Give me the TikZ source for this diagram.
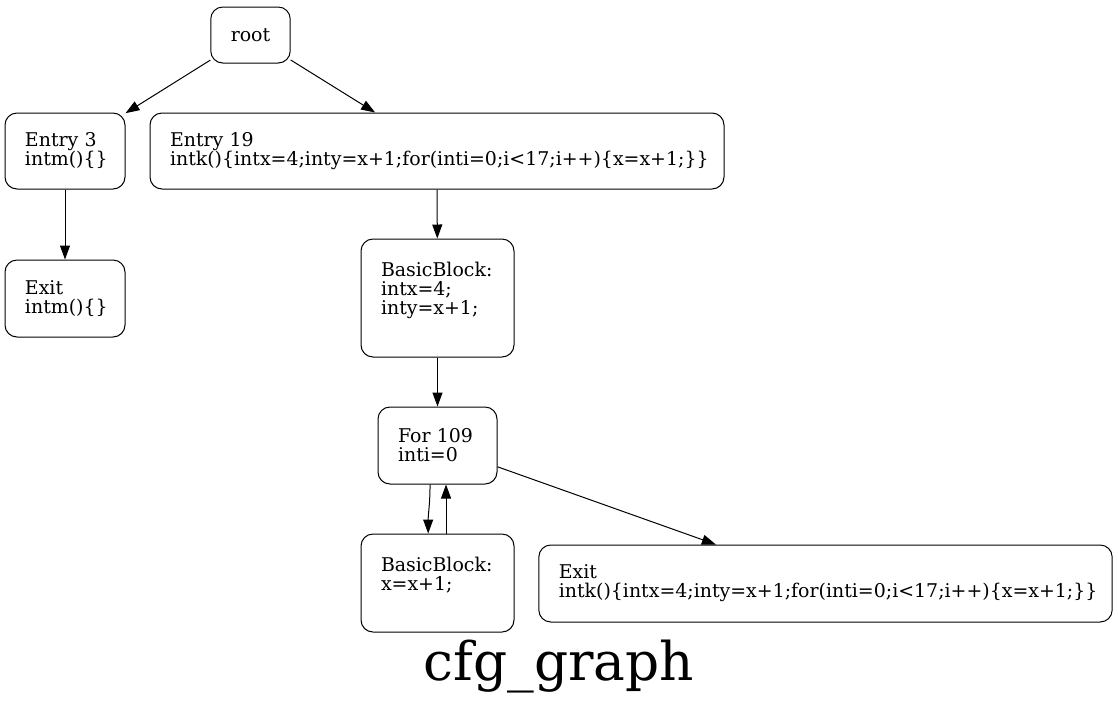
\documentclass[tikz,border=0pt]{standalone}
\usepackage{fontspec}
\setmainfont{DejaVu Serif}
\usetikzlibrary{arrows.meta}

\begin{document}
\begin{tikzpicture}[x=0.75pt, y=-0.75pt, line width=0.75pt,
  blk/.style={draw, rounded corners=9pt, align=left, inner xsep=15pt,
              inner ysep=0pt, font=\fontsize{14.2}{14.25}\selectfont},
  edge/.style={-{Triangle[length=10.5pt, width=7.5pt]}}]
  \useasboundingbox (0,0) rectangle (1118,708);

  %% blocks of the control flow graph (pixel positions, y downwards)
  \node[blk, align=center, minimum width=57.75pt, minimum height=42pt]
    (root) at (250.5,35) {root};
  \node[blk, text width=60pt, minimum height=57pt]
    (entrym) at (65,151) {Entry 3\\intm()\{\}};
  \node[blk, text width=400.5pt, minimum height=57pt]
    (entryk) at (437,151) {Entry 19\\intk()\{intx=4;inty=x+1;for(inti=0;i<17;i++)\{x=x+1;\}\}};
  \node[blk, text width=60pt, minimum height=57.75pt]
    (exitm) at (65,298.5) {Exit\\intm()\{\}};
  \node[blk, text width=84.75pt, minimum height=88.5pt]
    (bbinit) at (437.5,298) {BasicBlock:\\intx=4;\\inty=x+1;\\\mbox{}};
  \node[blk, text width=59.25pt, minimum height=57.75pt]
    (forloop) at (437.5,445.5) {For 109\\inti=0};
  \node[blk, text width=84.75pt, minimum height=73.5pt]
    (bbbody) at (437.5,583) {BasicBlock:\\x=x+1;\\\mbox{}};
  \node[blk, text width=400pt, minimum height=57.75pt]
    (exitk) at (825.5,583.5) {Exit\\intk()\{intx=4;inty=x+1;for(inti=0;i<17;i++)\{x=x+1;\}\}};

  %% graph title
  \node[font=\fontsize{40}{40}\selectfont] (title) at (559,667) {cfg\_graph};

  %% edges
  \draw[edge] (root) -- (entrym);
  \draw[edge] (root) -- (entryk);
  \draw[edge] (entrym) -- (exitm);
  \draw[edge] (entryk) -- (bbinit);
  \draw[edge] (bbinit) -- (forloop);
  \draw[edge] ([xshift=-5.6pt]forloop.south) .. controls +(0,20) and +(0,-20) .. ([xshift=-7pt]bbbody.north);
  \draw[edge] ([xshift=6.4pt]bbbody.north) -- ([xshift=6.4pt]forloop.south);
  \draw[edge] (forloop) -- (exitk);

\end{tikzpicture}
\end{document}
